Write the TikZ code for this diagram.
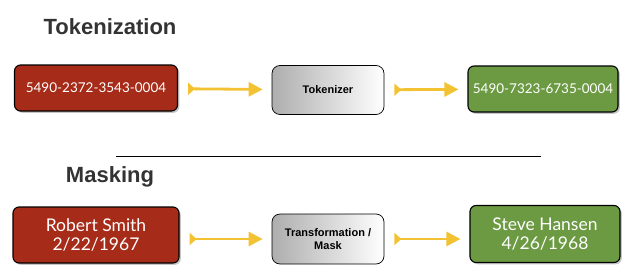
\documentclass[tikz,border=0pt]{standalone}
\usepackage{fontspec}
\setmainfont{Lato}
\setsansfont{Liberation Sans}
\usetikzlibrary{arrows.meta, positioning, shadows}
\definecolor{sourcefill}{HTML}{A62B18}
\definecolor{resultfill}{HTML}{6B9A42}
\definecolor{arrowyellow}{HTML}{F2C232}
\colorlet{headcolor}{black!80}
\tikzset{
  box/.style={
    draw=black,
    line width=1.1pt,
    rounded corners=6pt,
    align=center,
    text=white,
    drop shadow={shadow xshift=1.8pt, shadow yshift=-1.8pt, opacity=0.45}
  },
  source/.style={box, fill=sourcefill, minimum width=163pt},
  result/.style={box, fill=resultfill, minimum width=150pt},
  engine/.style={
    draw=black,
    line width=0.7pt,
    rounded corners=8pt,
    left color=black!32,
    right color=white,
    minimum width=112pt,
    minimum height=49pt,
    align=center,
    font=\sffamily\bfseries\fontsize{11}{13}\selectfont
  },
  small/.style={font=\fontsize{13.5}{15}\selectfont, minimum height=46pt},
  large/.style={font=\fontsize{17.5}{18.5}\selectfont, minimum height=56pt},
  arr/.style={
    draw=arrowyellow,
    line width=2.8pt,
    {Triangle[reversed, length=7pt, width=12pt]}-{Triangle[length=14pt, width=14pt]},
    shorten <=10pt,
    shorten >=9pt
  },
  heading/.style={font=\sffamily\bfseries\fontsize{22}{26}\selectfont, text=headcolor}
}
\begin{document}
\begin{tikzpicture}[x=1pt, y=1pt]
\useasboundingbox (0,0) rectangle (628,271);

% tokenization row
\node[heading] (tokhead) at (110,244) {Tokenization};
\node[source, small] (card) at (96,183) {5490-2372-3543-0004};
\node[engine] (tokenizer) at (328,181) {Tokenizer};
\node[result, small] (token) at (543,182) {5490-7323-6735-0004};

\draw[arr] (card) -- (tokenizer);
\draw[arr] (tokenizer) -- (token);

% divider
\coordinate (divleft) at (116,115);
\coordinate (divright) at (541,115);
\draw[line width=0.8pt] (divleft) -- (divright);

% masking row
\node[heading] (maskhead) at (110,94) {Masking};
\node[source, large, minimum width=166pt] (person) at (96,36) {Robert Smith\\2/22/1967};
\node[engine, minimum height=50pt] (mask) at (328,32) {Transformation /\\Mask};
\node[result, large, minimum height=57pt] (masked) at (545,37) {Steve Hansen\\4/26/1968};

\draw[arr] ([yshift=-4pt]person.east) -- (mask);
\draw[arr] (mask) -- ([yshift=-5pt]masked.west);

\end{tikzpicture}
\end{document}
